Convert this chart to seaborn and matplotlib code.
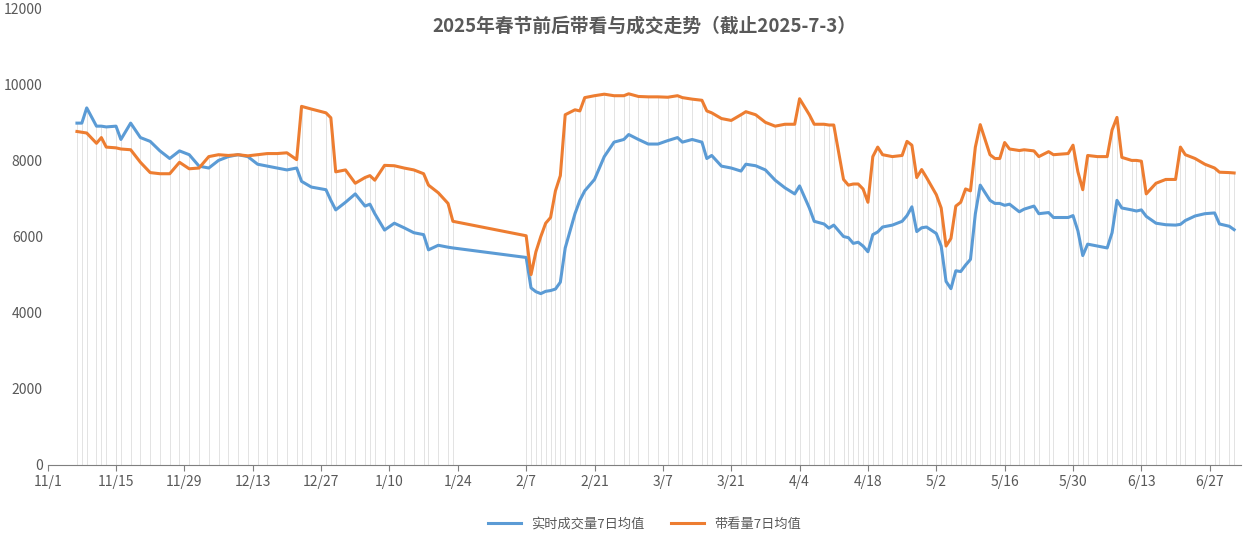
import matplotlib
matplotlib.use("Agg")
import matplotlib.pyplot as plt
import seaborn as sns
import pandas as pd
import numpy as np

plt.rcParams["font.family"] = ["Noto Sans CJK SC", "DejaVu Sans"]

start = pd.Timestamp("2024-11-01")
day_offsets = [6,7,8,10,11,12,14,15,17,19,21,23,25,27,29,31,33,35,37,39,41,43,45,47,49,51,52,54,57,58,59,61,63,65,66,67,69,71,73,75,77,78,80,82,83,
               98,99,100,101,102,103,104,105,106,108,109,110,112,114,116,118,119,121,123,125,127,129,130,132,134,135,136,138,140,142,143,145,147,149,151,153,154,156,157,159,160,161,163,164,165,166,167,168,169,170,171,173,175,176,177,178,179,180,182,183,184,185,186,187,188,189,190,191,193,194,195,196,197,199,200,202,203,205,206,209,210,211,212,213,215,217,218,219,220,222,223,224,225,227,229,231,232,233,235,237,239,240,242,243]
deal_7d = [8980,8980,9380,8900,8900,8880,8900,8550,8980,8600,8500,8250,8050,8250,8150,7850,7800,8000,8100,8150,8100,7900,7850,7800,7750,7800,7450,7300,7230,6950,6700,6900,7120,6800,6850,6600,6170,6350,6230,6100,6050,5650,5770,5720,5700,
           5450,4650,4550,4500,4560,4580,4620,4800,5700,6600,6950,7200,7500,8100,8480,8550,8680,8550,8430,8430,8520,8600,8480,8550,8480,8050,8130,7850,7800,7720,7900,7860,7750,7480,7280,7120,7330,6750,6400,6330,6220,6300,6000,5970,5820,5850,5750,5600,6050,6120,6250,6300,6400,6550,6780,6130,6230,6250,6080,5750,4820,4630,5100,5080,5250,5400,6600,7350,6950,6870,6870,6820,6850,6650,6720,6800,6600,6630,6500,6500,6550,6150,5500,5800,5750,5700,6100,6950,6750,6700,6670,6700,6530,6350,6310,6300,6320,6420,6540,6600,6620,6330,6270,6180]
view_7d = [8760,8740,8720,8450,8600,8350,8330,8300,8280,7950,7680,7650,7650,7950,7780,7800,8100,8150,8130,8150,8120,8150,8180,8180,8200,8020,9420,9350,9250,9120,7700,7750,7400,7550,7600,7480,7870,7860,7800,7750,7650,7350,7150,6870,6400,
           6020,5000,5600,6000,6350,6500,7200,7600,9200,9330,9300,9650,9700,9740,9700,9700,9750,9680,9670,9670,9660,9700,9650,9610,9580,9300,9250,9100,9050,9200,9280,9200,9000,8900,8950,8950,9620,9200,8950,8950,8930,8930,7500,7350,7380,7380,7250,6900,8100,8350,8150,8100,8130,8500,8400,7550,7760,7550,7100,6750,5750,5950,6800,6900,7250,7200,8350,8940,8150,8050,8050,8470,8300,8260,8280,8250,8100,8230,8150,8180,8400,7700,7230,8130,8100,8100,8800,9130,8080,8000,8000,7980,7120,7400,7500,7500,8350,8150,8050,7900,7800,7690,7680,7670]

dates = [start + pd.Timedelta(days=d) for d in day_offsets]
df = pd.DataFrame({"date": dates, "实时成交量7日均值": deal_7d, "带看量7日均值": view_7d})
long = df.melt("date", var_name="series", value_name="value")

fig = plt.figure(figsize=(12.54, 5.45), dpi=100)
ax = fig.add_axes([0.038, 0.147, 0.952, 0.838])
top = np.maximum(df["实时成交量7日均值"], df["带看量7日均值"])
ax.vlines(df["date"], 0, top, color="#dedede", lw=0.6, zorder=1)
sns.lineplot(data=long, x="date", y="value", hue="series",
             palette={"实时成交量7日均值": "#5b9bd5", "带看量7日均值": "#ed7d31"},
             lw=2.2, ax=ax, zorder=3)

ax.set_ylim(0, 12000)
ax.set_yticks(range(0, 12001, 2000))
ax.set_xlim(start, start + pd.Timedelta(days=244.5))
ticks = [start + pd.Timedelta(days=14 * i) for i in range(18)]
ax.set_xticks(ticks)
ax.set_xticklabels([f"{t.month}/{t.day}" for t in ticks])
ax.tick_params(axis="both", labelsize=10, colors="#595959")
ax.tick_params(axis="y", length=0)
ax.tick_params(axis="x", length=4, color="#7f7f7f")
for s in ["top", "right", "left"]:
    ax.spines[s].set_visible(False)
ax.spines["bottom"].set_color("#7f7f7f")
ax.set_xlabel("")
ax.set_ylabel("")
ax.set_title("2025年春节前后带看与成交走势（截止2025-7-3）", fontsize=13.5, fontweight="bold",
             color="#595959", y=0.93)
ax.legend(loc="upper center", bbox_to_anchor=(0.5, -0.09), ncol=2, frameon=False,
          fontsize=9.5, labelcolor="#595959", handlelength=2.5)
fig.savefig("out.png", dpi=100)
